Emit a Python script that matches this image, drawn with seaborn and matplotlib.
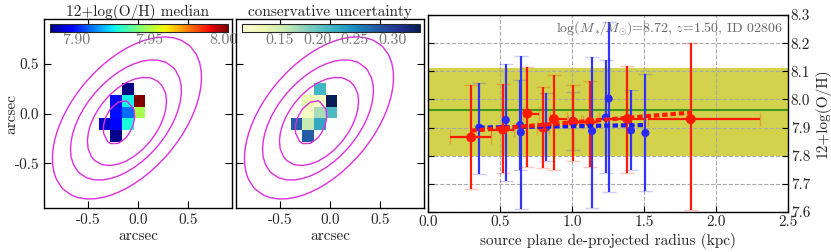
import numpy as np
import pandas as pd
import seaborn as sns
import matplotlib
matplotlib.use("Agg")
import matplotlib.pyplot as plt

sns.set_style("ticks")
plt.rcParams['font.family'] = 'serif'
plt.rcParams['font.serif'] = ['cmr10', 'DejaVu Serif']
plt.rcParams['mathtext.fontset'] = 'cm'
plt.rcParams['axes.formatter.use_mathtext'] = False
plt.rcParams['axes.unicode_minus'] = False

# ---- map data (5x5 pixels, nan = no measurement) ----
pix_size = 0.117
pix_x0, pix_y0 = -0.394, 0.303   # top-left corner of the pixel grid (arcsec)
oh_median = np.array([
    [np.nan, np.nan, 7.882, np.nan, np.nan],
    [np.nan, 7.894, 7.926, 8.003, np.nan],
    [np.nan, 7.899, 7.910, 7.949, np.nan],
    [7.890, 7.897, 7.928, np.nan, np.nan],
    [np.nan, 7.883, np.nan, np.nan, np.nan],
])
oh_unc = np.array([
    [np.nan, np.nan, 0.218, np.nan, np.nan],
    [np.nan, 0.128, 0.112, 0.336, np.nan],
    [np.nan, 0.117, 0.171, 0.213, np.nan],
    [0.277, 0.159, 0.230, np.nan, np.nan],
    [np.nan, 0.278, np.nan, np.nan, np.nan],
])
# source light contours: one ellipse per level (centre, position angle, axis ratio, size)
cont_cx = [-0.19, -0.11, -0.12, -0.11]
cont_cy = [-0.09, -0.08, -0.065, -0.045]
cont_pa = [68.0, 52.0, 50.0, 50.0]
cont_q = [0.62, 0.60, 0.58, 0.57]
cont_a = [0.23, 0.51, 0.71, 0.96]

# ---- radial profile ----
red_r = [0.30, 0.52, 0.69, 0.80, 0.875, 1.01, 1.125, 1.385, 1.825]
red_oh = [7.865, 7.893, 7.950, 7.900, 7.930, 7.920, 7.920, 7.930, 7.930]
red_lo = [0.182, 0.153, 0.190, 0.143, 0.180, 0.140, 0.160, 0.193, 0.324]
red_hi = [0.185, 0.162, 0.166, 0.145, 0.157, 0.130, 0.146, 0.190, 0.270]
red_xlo = [0.15, 0.08, 0.03, 0.04, 0.03, 0.04, 0.05, 0.20, 0.30]
red_xhi = [0.14, 0.08, 0.08, 0.04, 0.09, 0.05, 0.05, 0.12, 0.48]

blue_r = [0.356, 0.54, 0.64, 0.645, 0.82, 1.005, 1.14, 1.235, 1.255, 1.41, 1.51]
blue_oh = [7.900, 7.927, 7.909, 7.883, 7.900, 7.924, 7.888, 7.936, 8.003, 7.890, 7.881]
blue_lo = [0.166, 0.217, 0.160, 0.271, 0.120, 0.104, 0.272, 0.199, 0.331, 0.140, 0.207]
blue_hi = [0.160, 0.199, 0.160, 0.271, 0.122, 0.101, 0.264, 0.204, 0.273, 0.143, 0.209]

red_fit_r = [0.30, 1.82]
red_fit_oh = [7.889, 7.953]
blue_fit_r = [0.356, 1.51]
blue_fit_oh = [7.900, 7.909]

global_oh = 7.962
global_lo, global_hi = 7.800, 8.110
label_text = r"$\log(M_*\!/\!M_{\odot})$=8.72, $z$=1.50, ID 02806"

fig = plt.figure(figsize=(8.31, 2.52), dpi=100)
ax1 = fig.add_axes([0.0529, 0.1746, 0.2262, 0.75])
ax2 = fig.add_axes([0.2840, 0.1746, 0.2262, 0.75])
ax3 = fig.add_axes([0.5150, 0.1587, 0.4332, 0.7817])

xe = pix_x0 + pix_size * np.arange(6)
ye = pix_y0 - pix_size * np.arange(6)

g = np.linspace(-1.3, 1.3, 34)
gx, gy = np.meshgrid(g, g)

maps = [(ax1, oh_median, 'jet', 7.882, 8.003, [7.90, 7.95, 8.00], '%.2f', '12+log(O/H) median'),
        (ax2, oh_unc, 'YlGnBu', 0.10, 0.336, [0.15, 0.20, 0.25, 0.30], '%.2f', 'conservative uncertainty')]
for ax, data, cm, vmin, vmax, cticks, fmt, title in maps:
    mesh = ax.pcolormesh(xe, ye, np.ma.masked_invalid(data), cmap=cm, vmin=vmin, vmax=vmax)
    for cx, cy, pa, q, a in zip(cont_cx, cont_cy, cont_pa, cont_q, cont_a):
        t = np.deg2rad(pa)
        u = (gx - cx) * np.cos(t) + (gy - cy) * np.sin(t)
        v = -(gx - cx) * np.sin(t) + (gy - cy) * np.cos(t)
        ax.contour(gx, gy, np.sqrt(u ** 2 + (v / q) ** 2), levels=[a],
                   colors='#dd2ee0', linewidths=1.0)
    ax.set_xlim(-0.94, 0.94)
    ax.set_ylim(-0.95, 0.95)
    ax.set_xticks([-0.5, 0.0, 0.5])
    ax.set_yticks([-0.5, 0.0, 0.5])
    ax.tick_params(direction='in', top=True, right=True, length=5, labelsize=11, color='k')
    ax.set_xlabel('arcsec', fontsize=11, labelpad=2)
    ax.set_title(title, fontsize=11, pad=2)
    for s in ax.spines.values():
        s.set_color('k')
        s.set_linewidth(1.0)
    cax = ax.inset_axes([0.03, 0.931, 0.947, 0.042])
    cb = fig.colorbar(mesh, cax=cax, orientation='horizontal', ticks=cticks, format=fmt)
    cb.outline.set_linewidth(0.8)
    cax.tick_params(direction='in', length=3, labelsize=11.5, labelcolor='#777777', pad=1)
ax1.set_ylabel('arcsec', fontsize=11)
ax1.yaxis.set_label_coords(-0.135, 0.5)
ax2.set_yticklabels([])

# right panel
ax3.axhspan(global_lo, global_hi, color='y', alpha=0.7, lw=0, zorder=0)
ax3.axhline(global_oh, color='#3f9817', lw=1.5, zorder=1)
ax3.grid(True, ls='--', color='#aaaaaa', lw=0.8, zorder=0.5)
ax3.set_axisbelow(True)

eb = ax3.errorbar(red_r, red_oh, yerr=[red_lo, red_hi], xerr=[red_xlo, red_xhi], fmt='none',
                  ecolor='#ff1a00', elinewidth=1.6, capsize=5, zorder=3)
for c in eb[1]:
    c.set_alpha(0.25)
eb = ax3.errorbar(blue_r, blue_oh, yerr=[blue_lo, blue_hi], fmt='none',
                  ecolor='#3333ff', elinewidth=1.6, capsize=5, zorder=2.5)
for c in eb[1]:
    c.set_alpha(0.25)

prof = pd.DataFrame({'r': red_r + blue_r, 'oh': red_oh + blue_oh,
                     'set': ['red'] * len(red_r) + ['blue'] * len(blue_r)})
sns.scatterplot(data=prof[prof['set'] == 'blue'], x='r', y='oh', color='#2a2aff', s=34,
                edgecolor='none', ax=ax3, zorder=4, legend=False)
sns.scatterplot(data=prof[prof['set'] == 'red'], x='r', y='oh', color='#ff1a00', s=52,
                edgecolor='none', ax=ax3, zorder=4, legend=False)
sns.lineplot(x=blue_fit_r, y=blue_fit_oh, color='#1a1aff', lw=3, ax=ax3, zorder=5,
             dashes=False, linestyle=(0, (1.3, 0.7)))
sns.lineplot(x=red_fit_r, y=red_fit_oh, color='#ff1a00', lw=3, ax=ax3, zorder=5,
             dashes=False, linestyle=(0, (1.3, 0.7)))

ax3.set_xlim(0, 2.5)
ax3.set_ylim(7.6, 8.3)
ax3.set_xticks(np.arange(0, 2.51, 0.5))
ax3.set_yticks(np.arange(7.6, 8.31, 0.1))
ax3.yaxis.tick_right()
ax3.yaxis.set_label_position('right')
ax3.tick_params(direction='in', left=True, right=True, length=4, labelsize=11, color='k', pad=2)
ax3.set_xlabel('source plane de-projected radius (kpc)', fontsize=11, labelpad=3)
ax3.set_ylabel('12+log(O/H)', fontsize=11, labelpad=3)
for s in ax3.spines.values():
    s.set_color('k')
    s.set_linewidth(1.0)
ax3.text(2.46, 8.255, label_text, ha='right', va='center', fontsize=10, color='#666666')

fig.savefig('out.png', dpi=100)
